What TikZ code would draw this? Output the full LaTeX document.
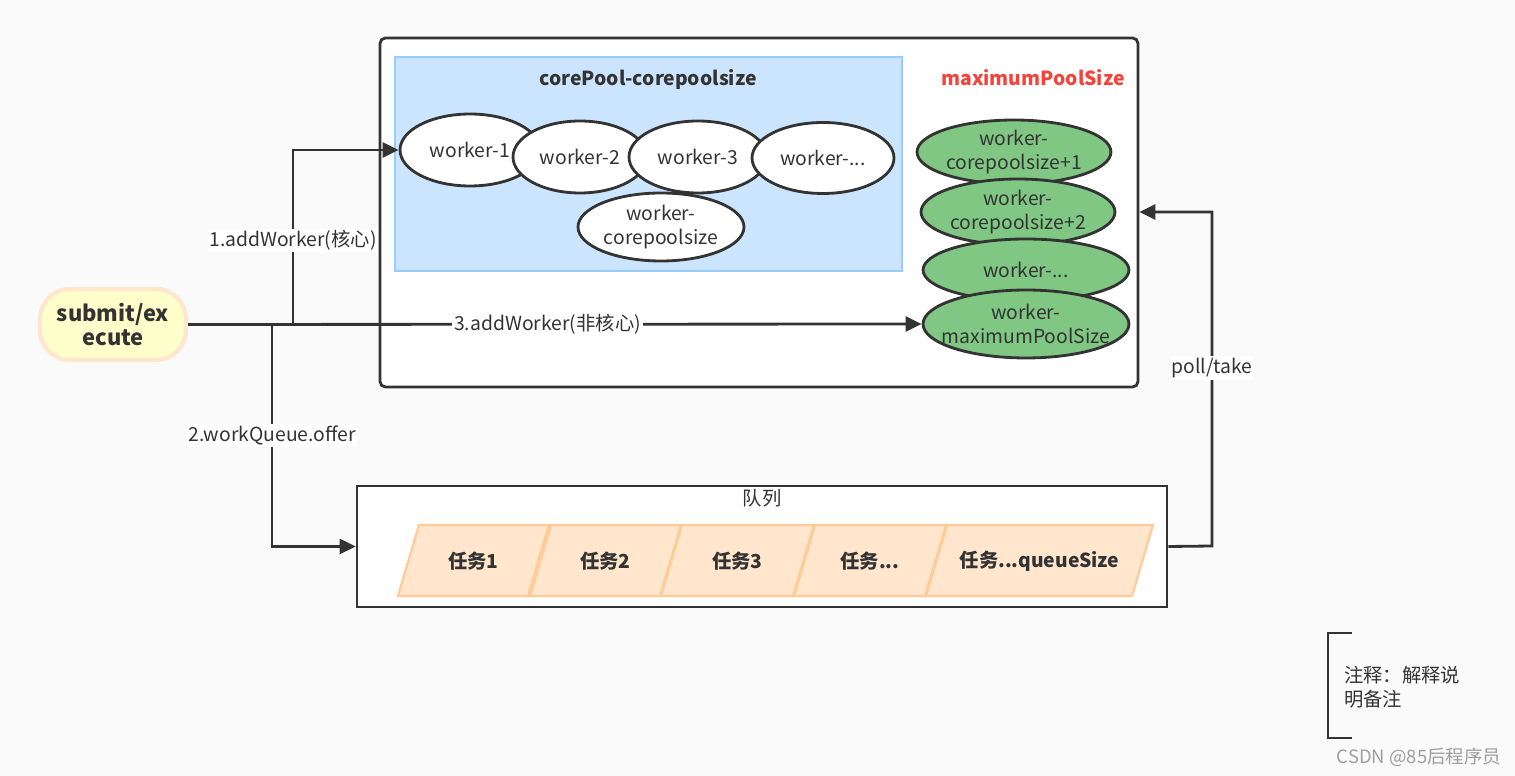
\documentclass[tikz,border=0pt]{standalone}
\usepackage{fontspec}
\setmainfont{Noto Sans CJK SC}
\usepackage{tikz}
\usetikzlibrary{arrows.meta,shapes.geometric,positioning,calc}
\definecolor{hgrund}{HTML}{FAFAFA}
\definecolor{linie}{HTML}{333333}
\definecolor{kernblau}{HTML}{CCE5FF}
\definecolor{kernrand}{HTML}{99CCFF}
\definecolor{gruen}{HTML}{7FC783}
\definecolor{rot}{HTML}{F5433A}
\definecolor{gelb}{HTML}{FFFFCC}
\definecolor{pfirsich}{HTML}{FFE6CC}
\definecolor{orangerand}{HTML}{FFCC99}
\newcommand\dreipunkt{...}
\tikzset{
  schrift/.style={font=\fontsize{11}{13.5}\selectfont,text=linie},
  arbeiter/.style={ellipse,draw=linie,line width=1.6pt,fill=white,inner sep=0pt},
  pfeil/.style={draw=linie,line width=1.6pt,-{Triangle[length=0.32cm,width=0.3cm]}},
  beschr/.style={fill=white,inner sep=1pt,schrift},
  aufgabe/.style={fill=pfirsich,draw=orangerand,line width=1.3pt},
}
\begin{document}
\begin{tikzpicture}[x=0.02cm,y=-0.02cm]
%Ein Pixel der Vorlage = 0.02cm, y zaehlt nach unten
\fill[hgrund] (0,0) rectangle (1515,776);
\useasboundingbox (0,0) rectangle (1515,776);
%Threadpool aussen und corePool innen
\node[draw=linie,line width=1.6pt,fill=white,rounded corners=3pt,inner sep=0pt,minimum width=15.16cm,minimum height=6.98cm] (pool) at (759,212.5) {};
\node[draw=kernrand,line width=1.2pt,fill=kernblau,inner sep=0pt,minimum width=10.14cm,minimum height=4.28cm] (kern) at (648.5,164) {};
\node[schrift,font=\fontsize{11}{13.5}\selectfont\bfseries] (kerntitel) at (648,79) {corePool-corepoolsize};
\node[schrift,font=\fontsize{11}{13.5}\selectfont\bfseries,text=rot] (maxtitel) at (1033,78) {maximumPoolSize};
%Kern-Worker (Text als Label, damit die Ellipse ihre Groesse behaelt)
\foreach \nm/\x/\y/\b/\h/\txt in {w1/470/150/2.8/1.44/worker-1, w2/580/157/2.68/1.44/worker-2, w3/698/157/2.76/1.44/worker-3, w4/823/158/2.84/1.42/worker-\dreipunkt, w5/661/227/3.32/1.36/{worker-\\corepoolsize}}{
\node[arbeiter,minimum width=\b cm,minimum height=\h cm,label={[schrift,align=center]center:\txt}] (\nm) at (\x,\y) {};
}
%Nicht-Kern-Worker
\foreach \nm/\x/\y/\b/\h/\txt in {g1/1014/152/3.88/1.28/{worker-\\corepoolsize+1}, g2/1018/212/3.88/1.32/{worker-\\corepoolsize+2}, g3/1026/270/4.12/1.24/worker-\dreipunkt, g4/1026/324/4.12/1.36/{worker-\\maximumPoolSize}}{
\node[arbeiter,fill=gruen,minimum width=\b cm,minimum height=\h cm,label={[schrift,align=center]center:\txt}] (\nm) at (\x,\y) {};
}
%Eingang
\node[draw=pfirsich,line width=2.4pt,fill=gelb,rounded corners=0.6cm,minimum width=2.92cm,minimum height=1.42cm,align=center,schrift,font=\fontsize{12.5}{14}\selectfont\bfseries] (submit) at (113,324.5) {submit/ex\\ecute};
%Warteschlange
\node[draw=linie,line width=1.6pt,fill=white,inner sep=0pt,minimum width=16.2cm,minimum height=2.42cm] (queue) at (762,546.5) {};
\node[schrift] (queuetitel) at (762,498) {队列};
\foreach \txt/\a/\b [count=\i] in {任务1/398/528, 任务2/530/660, 任务3/661/793, 任务\dreipunkt/794/925, 任务\dreipunkt queueSize/926/1132}{
\draw[aufgabe] (\a,596) -- ++(21,-71) -- (\b+21,525) -- (\b,596) -- cycle;
\pgfmathsetmacro\mx{(\a+\b)/2+10.5}
\node[schrift,font=\fontsize{11}{13.5}\selectfont\bfseries] (t\i) at (\mx,561) {\txt};
}
%Verbindungen
\coordinate (j1) at (293,324);
\coordinate (j2) at (272,324);
\coordinate (p1) at (1212,546);
\coordinate (p2) at (1212,212);
\draw[pfeil] (submit.east) -- node[beschr,pos=0.49] {3.addWorker(非核心)} (g4.west);
\draw[pfeil] (j1) |- node[beschr,pos=0.24] {1.addWorker(核心)} (w1.west);
\draw[pfeil] (j2) |- node[beschr,pos=0.25] {2.workQueue.offer} (queue.west);
\draw[pfeil] (queue.east) -- (p1) -- node[beschr,pos=0.533] {poll/take} (p2) -- (pool.east |- p2);
%Notiz
\draw[linie,line width=1.6pt] (1352,633) -- (1328,633) -- (1328,738) -- (1352,738);
\node[schrift,anchor=west,align=left] (notiz) at (1338,687.5) {注释：解释说\\明备注};
\node[font=\fontsize{10.5}{12}\selectfont,text=black!38] (wasserzeichen) at (1419,757) {CSDN @85后程序员};
\end{tikzpicture}
\end{document}
